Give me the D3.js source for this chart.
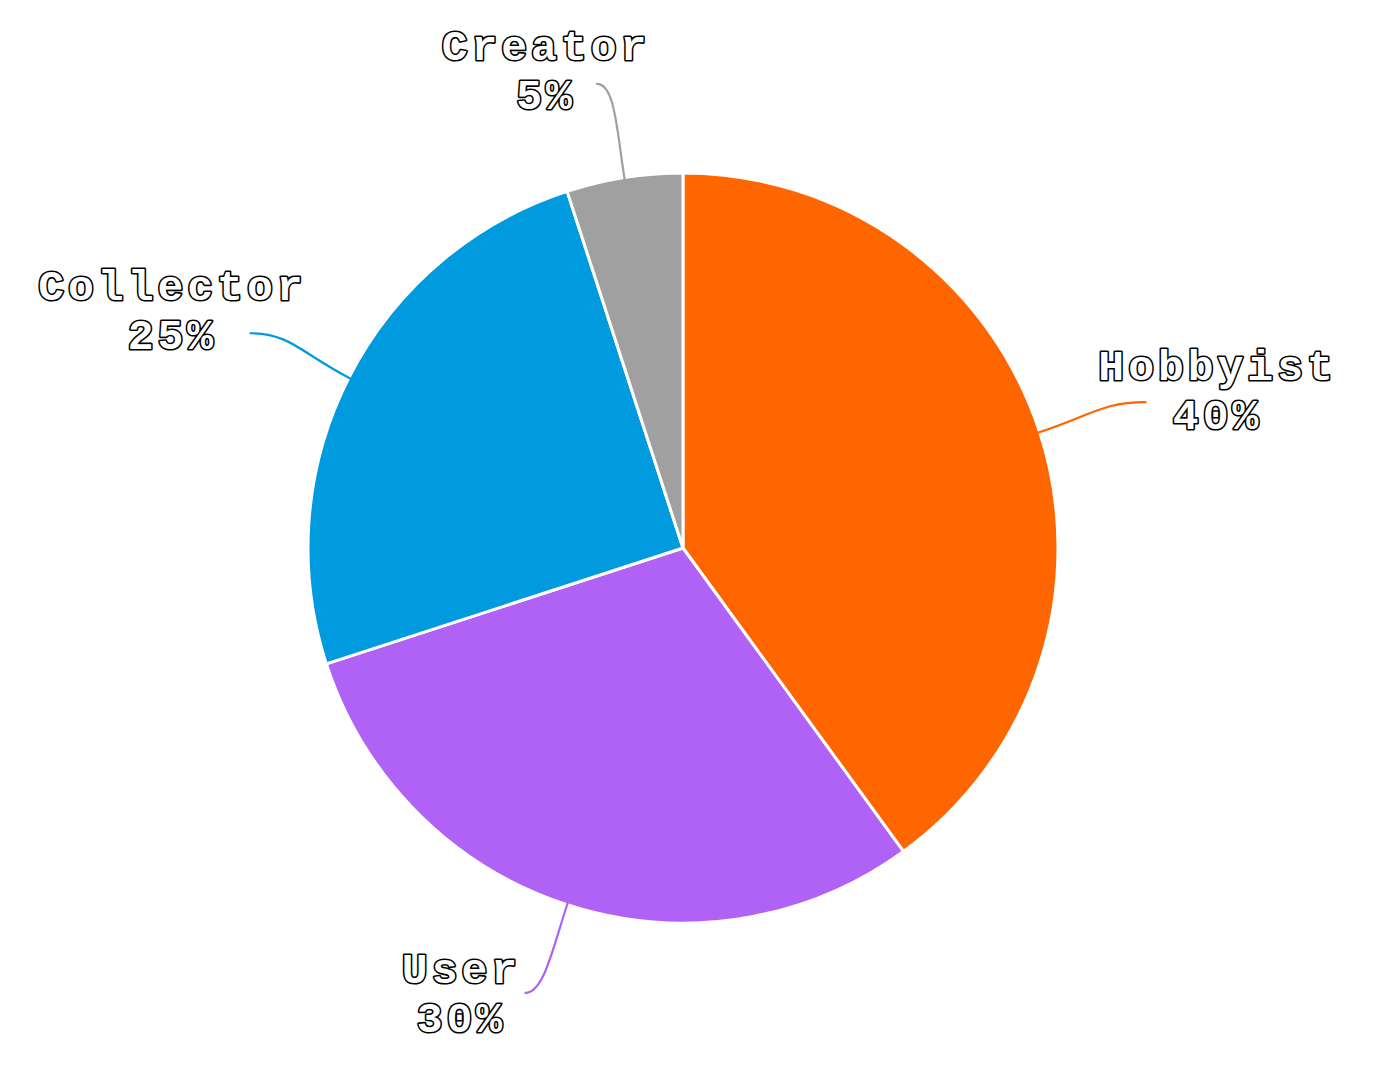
<!DOCTYPE html>
<html>
<head>
<meta charset="utf-8">
<script src="https://cdn.jsdelivr.net/npm/d3@7"></script>
<style>
  html, body { margin: 0; padding: 0; background: #fff; }
  svg { display: block; }
</style>
</head>
<body>
<svg id="chart" width="1375" height="1080"></svg>
<script>
const categories = ["Hobbyist", "User", "Collector", "Creator"];
const values = [40, 30, 25, 5];
const percentLabels = ["40%", "30%", "25%", "5%"];
const colors = ["#ff6600", "#b061f6", "#009bde", "#a0a0a0"];

// layout (not data)
const cx = 683, cy = 548, R = 375;
// leader end: [radius, angle shift in degrees] relative to slice mid-angle
const leaderEnds = [[485, 0.5], [472, 1.5], [483, -0.6], [472, -1.5]];
// label: [dx of text centre, dy of first baseline] relative to leader end
const labelOffsets = [[70, -22], [-66, -10], [-80, -33], [-53, -24]];
const lineGap = 49;
const fontSize = 43;
const letterSpacing = 4;

const svg = d3.select("#chart");
const g = svg.append("g").attr("transform", `translate(${cx},${cy})`);

const data = categories.map((c, i) => ({ name: c, value: values[i], pct: percentLabels[i], color: colors[i], i }));

const pie = d3.pie().value(d => d.value).sort(null);
const arc = d3.arc().innerRadius(0).outerRadius(R);
const arcs = pie(data);

g.selectAll("path.slice").data(arcs).join("path")
  .attr("class", "slice")
  .attr("d", arc)
  .attr("fill", d => d.data.color)
  .attr("stroke", "#fff")
  .attr("stroke-width", 3)
  .attr("stroke-linejoin", "round");

function polar(a, r) { return [r * Math.sin(a), -r * Math.cos(a)]; }

const fontStack = "'Nimbus Mono PS', 'Courier New', Courier, FreeMono, 'Liberation Mono', monospace";

arcs.forEach(d => {
  const i = d.data.i;
  const mid = (d.startAngle + d.endAngle) / 2;
  const p0 = polar(mid, R - 2);
  const endA = mid + leaderEnds[i][1] * Math.PI / 180;
  const p3 = polar(endA, leaderEnds[i][0]);
  const dir = [Math.sin(mid), -Math.cos(mid)];
  const dist = Math.hypot(p3[0] - p0[0], p3[1] - p0[1]);
  const c1 = [p0[0] + dir[0] * dist * 0.5, p0[1] + dir[1] * dist * 0.5];
  const s = Math.sign(p0[0] - p3[0]) || 1;
  const c2 = [p3[0] + s * Math.max(18, Math.abs(p0[0] - p3[0]) * 0.4), p3[1]];
  const path = d3.path();
  path.moveTo(p0[0], p0[1]);
  path.bezierCurveTo(c1[0], c1[1], c2[0], c2[1], p3[0], p3[1]);
  g.append("path")
    .attr("d", path.toString())
    .attr("fill", "none")
    .attr("stroke", d.data.color)
    .attr("stroke-width", 2.2)
    .attr("stroke-linecap", "round");

  const off = labelOffsets[i];
  const lx = p3[0] + off[0] + letterSpacing / 2, ly = p3[1] + off[1];
  [d.data.name, d.data.pct].forEach((txt, k) => {
    g.append("text")
      .attr("x", lx).attr("y", ly + k * lineGap)
      .attr("text-anchor", "middle")
      .attr("font-family", fontStack)
      .attr("font-weight", "bold")
      .attr("font-size", fontSize)
      .attr("letter-spacing", letterSpacing)
      .attr("fill", "#fff")
      .attr("stroke", "#000")
      .attr("stroke-width", 3.2)
      .attr("paint-order", "stroke")
      .attr("stroke-linejoin", "round")
      .text(txt);
  });
});
</script>
</body>
</html>
